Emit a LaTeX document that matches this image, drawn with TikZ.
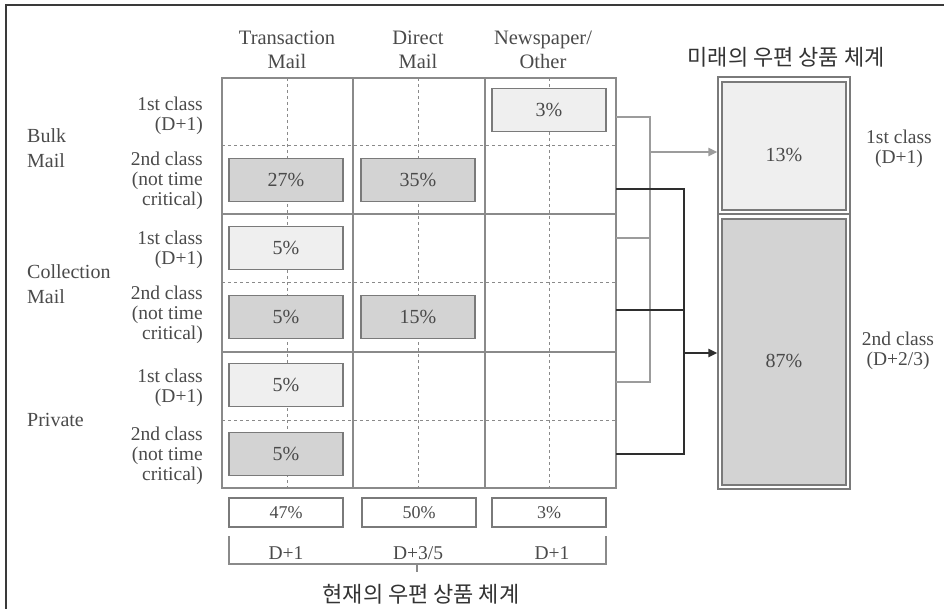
\documentclass[tikz,border=0pt]{standalone}
\usepackage{fontspec}
\setmainfont{Liberation Serif}
\newfontfamily\krfont{Noto Sans CJK KR}
\usetikzlibrary{arrows.meta}
\definecolor{txt}{HTML}{4A4A4A}
\definecolor{ktxt}{HTML}{333333}
\definecolor{gridc}{HTML}{8A8A8A}
\definecolor{lightf}{HTML}{EFEFEF}
\definecolor{darkf}{HTML}{D3D3D3}
\definecolor{boxc}{HTML}{7A7A7A}
\definecolor{conlight}{HTML}{9C9C9C}
\definecolor{condark}{HTML}{2E2E2E}
\definecolor{framec}{HTML}{3A3A3A}
\begin{document}
\begin{tikzpicture}[x=1pt,y=-1pt,
  lbl/.style={text=txt, font=\fontsize{19.5}{20}\selectfont, inner sep=0pt},
  rowlbl/.style={lbl, align=right, anchor=east},
  grplbl/.style={text=txt, font=\fontsize{20}{25}\selectfont, inner sep=0pt, align=left, anchor=west},
  hdr/.style={text=txt, font=\fontsize{20.5}{24}\selectfont, align=center, inner sep=0pt},
  pct/.style={draw=boxc, line width=1.2pt, minimum width=114pt, minimum height=43pt, inner sep=0pt, text=txt, font=\fontsize{20}{20}\selectfont},
  pctlight/.style={pct, fill=lightf},
  pctdark/.style={pct, fill=darkf},
  sumbox/.style={draw=boxc, line width=1.2pt, fill=white, minimum width=114pt, minimum height=29pt, inner sep=0pt, text=txt, font=\fontsize{18}{18}\selectfont},
  gridline/.style={draw=gridc, line width=1.3pt},
  dotline/.style={draw=gridc, line width=1pt, dash pattern=on 3pt off 3pt},
  con1/.style={draw=conlight, line width=2pt},
  con2/.style={draw=condark, line width=2pt},
  tip/.style={-{Triangle[length=9pt,width=8pt]}},
  ktitle/.style={text=ktxt, font=\krfont\fontsize{22}{22}\selectfont, inner sep=0pt}
]
\useasboundingbox (0,0) rectangle (944,609);
% outer frame
\draw[framec, line width=1.6pt] (6,609) -- (6,5) -- (944,5);

% headers
\node[hdr] (h1) at (287,50) {Transaction\\Mail};
\node[hdr] (h2) at (418,50) {Direct\\Mail};
\node[hdr] (h3) at (543,50) {Newspaper/\\Other};

% group labels
\node[grplbl] (gb) at (27,148) {Bulk\\Mail};
\node[grplbl] (gc) at (27,284) {Collection\\Mail};
\node[grplbl] (gp) at (27,420) {Private};

% row labels
\node[rowlbl] (r1) at (203,116) {1st class\\(D+1)};
\node[rowlbl] (r2) at (203,181) {2nd class\\(not time\\critical)};
\node[rowlbl] (r3) at (203,250) {1st class\\(D+1)};
\node[rowlbl] (r4) at (203,315) {2nd class\\(not time\\critical)};
\node[rowlbl] (r5) at (203,388) {1st class\\(D+1)};
\node[rowlbl] (r6) at (203,456) {2nd class\\(not time\\critical)};

% grid
\draw[dotline] (287,78) -- (287,488);
\draw[dotline] (418,78) -- (418,488);
\draw[dotline] (549,78) -- (549,488);
\draw[dotline] (222,146) -- (616,146);
\draw[dotline] (222,283) -- (616,283);
\draw[dotline] (222,420) -- (616,420);
\draw[gridline] (222,78) rectangle (616,488);
\draw[gridline] (353,78) -- (353,488);
\draw[gridline] (485,78) -- (485,488);
\draw[gridline] (222,214) -- (616,214);
\draw[gridline] (222,352) -- (616,352);

% cell boxes
\node[pctlight] (c13) at (549,110) {3\%};
\node[pctdark]  (c21) at (286,180) {27\%};
\node[pctdark]  (c22) at (418,180) {35\%};
\node[pctlight] (c31) at (286,248) {5\%};
\node[pctdark]  (c41) at (286,317) {5\%};
\node[pctdark]  (c42) at (418,317) {15\%};
\node[pctlight] (c51) at (286,385) {5\%};
\node[pctdark]  (c61) at (286,454) {5\%};

% sums
\node[sumbox] (t1) at (286,512.5) {47\%};
\node[sumbox] (t2) at (419,512.5) {50\%};
\node[sumbox] (t3) at (549,512.5) {3\%};

% bracket
\coordinate (bl) at (229,536);
\coordinate (br) at (606,536);
\coordinate (bm) at (417,564);
\draw[gridline] (bl) -- (bl |- bm) -- (br |- bm) -- (br);
\draw[gridline] (bm) -- ++(0,8);
\node[lbl] (d1) at (286,553) {D+1};
\node[lbl] (d2) at (418,553) {D+3/5};
\node[lbl] (d3) at (552,553) {D+1};
\node[ktitle] (kb) at (421,594) {현재의 우편 상품 체계};

% future system
\node[ktitle] (kt) at (786,57) {미래의 우편 상품 체계};
\node[draw=boxc, line width=1.2pt, minimum width=132pt, minimum height=412pt, inner sep=0pt] (ff) at (784,283) {};
\draw[draw=boxc, line width=1.2pt] (ff.west |- 0,214) -- (ff.east |- 0,214);
\node[draw=boxc, line width=1.2pt, fill=lightf, minimum width=124pt, minimum height=128pt, inner sep=0pt] (f1) at (784,146) {};
\node[draw=boxc, line width=1.2pt, fill=darkf, minimum width=124pt, minimum height=266pt, inner sep=0pt] (f2) at (784,352) {};
\node[lbl, font=\fontsize{20}{20}\selectfont] (p1) at (784,155) {13\%};
\node[lbl, font=\fontsize{20}{20}\selectfont] (p2) at (784,361) {87\%};
\node[lbl, align=center] (fl1) at (899,149) {1st class\\(D+1)};
\node[lbl, align=center] (fl2) at (898,351) {2nd class\\(D+2/3)};

% connectors
\coordinate (s1) at (616,117);
\coordinate (s2) at (616,238);
\coordinate (s3) at (616,382);
\coordinate (e1) at (616,189);
\coordinate (e2) at (616,310);
\coordinate (e3) at (616,454);
\coordinate (jl) at (650,152);
\coordinate (jd) at (684,353);
\draw[con1] (s1) -| (jl |- s3) -- (s3);
\draw[con1] (s2) -- (jl |- s2);
\draw[con1, tip] (jl) -- (ff.west |- jl);
\draw[con2] (e1) -| (jd |- e3) -- (e3);
\draw[con2] (e2) -- (jd |- e2);
\draw[con2, tip] (jd) -- (ff.west |- jd);
\end{tikzpicture}
\end{document}
